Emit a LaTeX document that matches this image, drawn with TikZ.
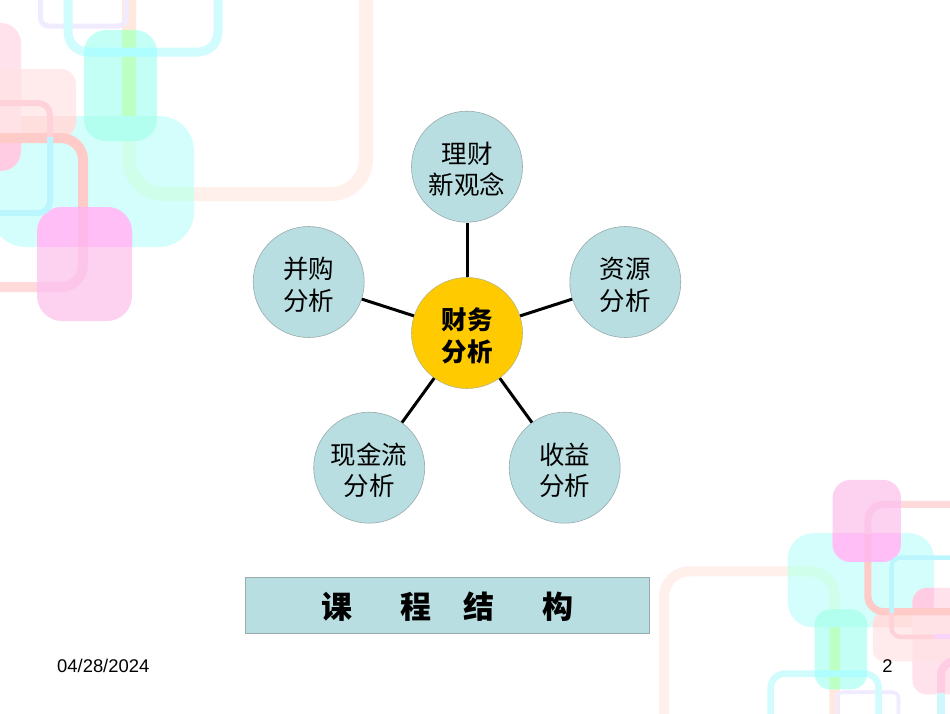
\documentclass[tikz,border=0pt]{standalone}
\usepackage{fontspec}
\setmainfont{Liberation Sans}
\newfontfamily\cjk{Noto Sans CJK SC}
\definecolor{cS}{HTML}{FFF0EC}
\definecolor{cSp}{HTML}{FFE8DE}
\definecolor{cSbc}{HTML}{CFFEEA}
\definecolor{cSt}{HTML}{BEFFC4}
\definecolor{cL}{HTML}{F0EBFF}
\definecolor{cC}{HTML}{D0FCFE}
\definecolor{cCt}{HTML}{AEFDFF}
\definecolor{cBC}{HTML}{D4FEFC}
\definecolor{cT}{HTML}{C4FFF6}
\definecolor{cTb}{HTML}{B2FFF0}
\definecolor{cPT}{HTML}{FFE2EC}
\definecolor{cPb}{HTML}{FFCCE4}
\definecolor{cSR}{HTML}{FFEBEB}
\definecolor{cSRp}{HTML}{FFE2E6}
\definecolor{cSRb}{HTML}{FFDEDE}
\definecolor{cFa}{HTML}{FFCBC8}
\definecolor{cFb}{HTML}{FFDADA}
\definecolor{cM}{HTML}{FDD2F0}
\definecolor{cMb}{HTML}{FFBEF6}
\definecolor{cFMa}{HTML}{FFB8EA}
\definecolor{cFMb}{HTML}{FCC6EA}
\definecolor{cSFp}{HTML}{FFD2DA}
\definecolor{cSFc}{HTML}{BBF5FE}
\definecolor{cFill}{HTML}{B9DEE1}
\definecolor{cLine}{HTML}{98ABAD}
\definecolor{cGold}{HTML}{FFCB00}
\newcommand{\lift}{\rule{0pt}{27pt}}
\tikzset{
  x=1pt,y=-1pt,
  bubble/.style={circle,draw=cLine,line width=.6pt,fill=cFill,minimum size=111pt,inner sep=0pt,align=center,font=\cjk\fontsize{25.5}{31.5}\selectfont},
  hub/.style={bubble,draw=cLine!70!cGold,fill=cGold,font=\cjk\bfseries\fontsize{25.5}{31.5}\selectfont},
  spoke/.style={black,line width=3pt},
  titlebox/.style={draw=cLine,line width=.8pt,fill=cFill,minimum width=404pt,minimum height=56pt,inner sep=0pt,font=\cjk\bfseries\fontsize{31}{36}\selectfont,execute at begin node={\rule{0pt}{29pt}}},
  pagetext/.style={inner sep=0pt,font=\fontsize{18.4}{22}\selectfont}
}
\newcommand{\frS}{(129,-40) rectangle (366,194)}
\newcommand{\frL}{(40.5,-40) rectangle (126,26)}
\newcommand{\frC}{(68,-40) rectangle (218,52)}
\newcommand{\frF}{(-60,138) rectangle (83,287)}
\newcommand{\frSF}{(-60,103) rectangle (50,213)}
\newcommand{\rBC}{[rounded corners=35] (-9,116) rectangle (194,247)}
\newcommand{\rT}{[rounded corners=22] (84,30) rectangle (157,141)}
\newcommand{\rPT}{[rounded corners=20] (-60,23) rectangle (21,171)}
\newcommand{\rSR}{[rounded corners=15] (-60,69) rectangle (76,137)}
\newcommand{\rM}{[rounded corners=25] (37,207) rectangle (132,321)}
\newcommand{\deco}{%
  \draw[cS,line width=14pt,rounded corners=35] \frS;
  \begin{scope}\clip (100,-40) rectangle (150,30);\draw[cSp,line width=14pt,rounded corners=35] \frS;\end{scope}
  \draw[cL,line width=5pt,rounded corners=8] \frL;
  \draw[cC,line width=9pt,rounded corners=20] \frC;
  \fill[cBC] \rBC;
  \begin{scope}\clip \rBC;\draw[cSbc,line width=14pt,rounded corners=35] \frS;\end{scope}
  \fill[cT] \rT;
  \begin{scope}\clip \rT;
    \draw[cSt,line width=14pt,rounded corners=35] \frS;
    \draw[cCt,line width=9pt,rounded corners=20] \frC;
    \fill[cTb] \rBC;
  \end{scope}
  \fill[cPT] \rPT;
  \begin{scope}\clip \rPT;\fill[cPb] \rBC;\end{scope}
  \fill[cSR] \rSR;
  \begin{scope}\clip \rSR;\fill[cSRb] \rBC;\fill[cSRp] \rPT;\end{scope}
  \begin{scope}\clip (-60,-60) rectangle (200,215);\draw[cFa,line width=10pt,rounded corners=22] \frF;\end{scope}
  \begin{scope}\clip (-60,215) rectangle (200,320);\draw[cFb,line width=10pt,rounded corners=22] \frF;\end{scope}
  \fill[cM] \rM;
  \begin{scope}\clip \rM;
    \fill[cMb] (0,200) rectangle (200,247);
    \begin{scope}\clip (0,200) rectangle (200,247);\draw[cFMa,line width=10pt,rounded corners=22] \frF;\end{scope}
    \begin{scope}\clip (0,247) rectangle (200,330);\draw[cFMb,line width=10pt,rounded corners=22] \frF;\end{scope}
  \end{scope}
  \begin{scope}\clip (-60,90) rectangle (70,137);\draw[cSFp,line width=6pt,rounded corners=12] \frSF;\end{scope}
  \begin{scope}\clip (-60,137) rectangle (70,230);\draw[cSFc,line width=6pt,rounded corners=12] \frSF;\end{scope}
}
\begin{document}
\begin{tikzpicture}
\useasboundingbox (0,0) rectangle (950,713);
\clip (0,0) rectangle (950,713);
\fill[white] (0,0) rectangle (950,713);
\deco
\begin{scope}[transform canvas={shift={(927.6,711)},scale=-.72}]
\deco
\end{scope}
\fill[cMb!50!cL] (934,634) rectangle (950,639);
\draw[cPb,line width=8pt,rounded corners=14] (941,694) -- (941,661) -- (970,661);
\draw[cSFc!70!white,line width=8pt] (941,693) -- (941,720);
\node[hub] (hubn) at (467,333) {\lift 财务\\分析};
\node[bubble] (top) at (467,166.7) {\lift 理财\\新观念};
\node[bubble] (right) at (625.3,282) {\lift 资源\\分析};
\node[bubble] (left) at (308.7,282) {\lift 并购\\分析};
\node[bubble] (lowl) at (369.2,467.7) {\lift 现金流\\分析};
\node[bubble] (lowr) at (564.7,467.7) {\lift 收益\\分析};
\foreach \n in {top,right,left,lowl,lowr}{\draw[spoke] (hubn) -- (\n);}
\node[titlebox] (title) at (447.5,605.5) {课\hspace{48pt}程\hspace{32pt}结\hspace{48pt}构};
\node[pagetext,anchor=base west] (date) at (57,672) {04/28/2024};
\node[pagetext,anchor=base] (page) at (887.5,672) {2};
\end{tikzpicture}
\end{document}
